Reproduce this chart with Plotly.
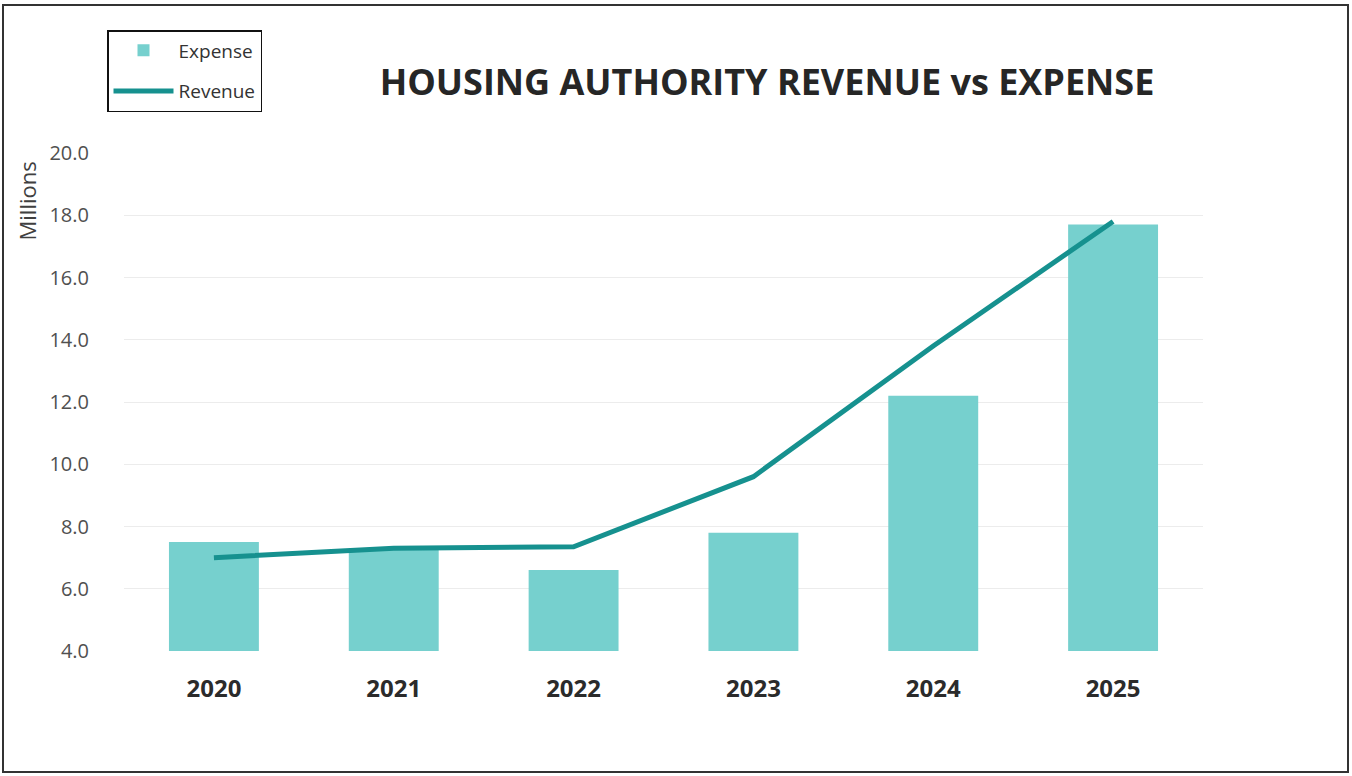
import plotly.graph_objects as go

years = ["2020", "2021", "2022", "2023", "2024", "2025"]
expense = [7.5, 7.3, 6.6, 7.8, 12.2, 17.7]
revenue = [7.0, 7.3, 7.35, 9.6, 13.8, 17.8]
y_ticks = [4, 6, 8, 10, 12, 14, 16, 18, 20]
y_tick_labels = ["4.0", "6.0", "8.0", "10.0", "12.0", "14.0", "16.0", "18.0", "20.0"]

BAR_COLOR = "#76D0CE"
LINE_COLOR = "#16918F"
FONT = "Open Sans"

fig = go.Figure()
fig.add_trace(go.Bar(x=years, y=expense, name="Expense", marker_color=BAR_COLOR,
                     marker_line_width=0, legendgroup="e"))
fig.add_trace(go.Scatter(x=years, y=revenue, name="Revenue", mode="lines",
                         line=dict(color=LINE_COLOR, width=5), legendgroup="r"))

W, H = 1352, 776
ml, mr, mt, mb = 124, 149, 153, 125
pw, ph = W - ml - mr, H - mt - mb

def px_x(p):
    return (p - ml) / pw

def px_y(p):
    return (H - mb - p) / ph

fig.update_layout(
    width=W, height=H,
    margin=dict(l=ml, r=mr, t=mt, b=mb, autoexpand=False),
    paper_bgcolor="white", plot_bgcolor="white",
    bargap=0.5,
    font=dict(family=FONT, color="#404040"),
    title=dict(text="<b>HOUSING AUTHORITY REVENUE vs EXPENSE</b>",
               xref="container", x=767 / W, xanchor="center", y=1 - 82 / H, yanchor="middle",
               font=dict(size=36, color="#262626", family=FONT)),
    legend=dict(x=px_x(107), y=px_y(30), xanchor="left", yanchor="top",
                bordercolor="#111111", borderwidth=1.5, bgcolor="white",
                font=dict(size=19, color="#333333", family=FONT),
                traceorder="grouped", itemwidth=60, tracegroupgap=13),
    xaxis=dict(showgrid=False, showline=False, zeroline=False,
               tickfont=dict(size=24, color="#2b2b2b", family=FONT, weight="bold"),
               ticks="outside", ticklen=16, tickcolor="rgba(0,0,0,0)"),
    yaxis=dict(range=[4, 20], tickvals=y_ticks, ticktext=y_tick_labels,
               showgrid=True, gridcolor="#ECECEC", gridwidth=1, zeroline=False,
               showline=False,
               tickfont=dict(size=20, color="#505050", family=FONT),
               ticks="outside", ticklen=30, tickcolor="rgba(0,0,0,0)"),
    shapes=[dict(type="rect", xref="paper", yref="paper",
                 x0=px_x(3), x1=px_x(1348), y0=px_y(772), y1=px_y(5),
                 line=dict(color="#333333", width=2), fillcolor="rgba(0,0,0,0)",
                 layer="below")],
    annotations=[dict(text="Millions", xref="paper", yref="paper",
                      x=px_x(27), y=px_y(160), xanchor="center", yanchor="top",
                      textangle=-90, showarrow=False,
                      font=dict(size=22, color="#404040", family=FONT))],
)

fig.write_html("out.html", config={"displayModeBar": False},
               post_script="document.body.style.margin='0px';")
